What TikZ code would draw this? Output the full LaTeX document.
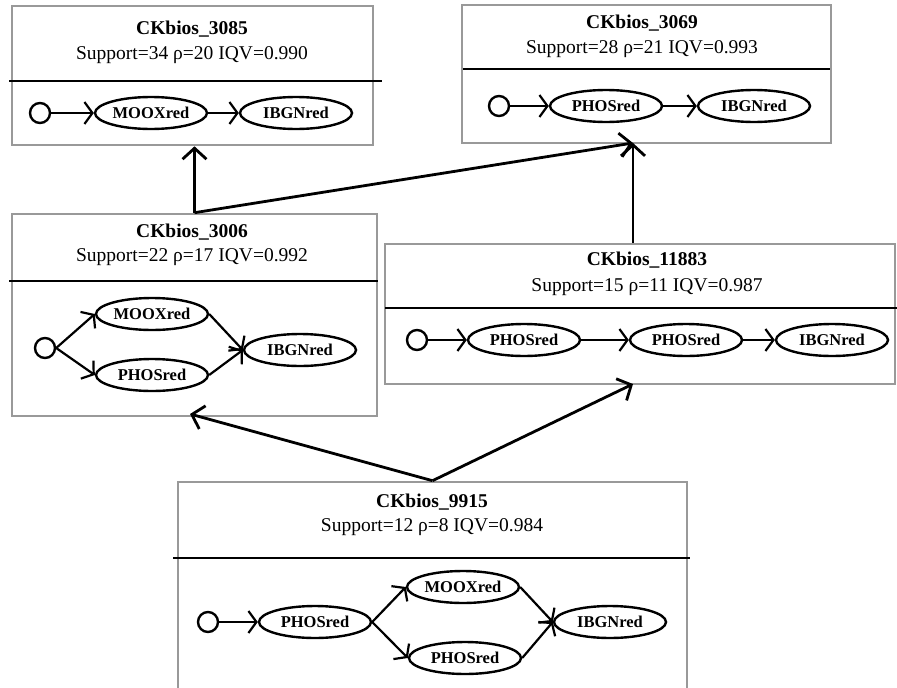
\documentclass[tikz,border=0pt]{standalone}
\usepackage{fontspec}
\setmainfont{Liberation Serif}
\usetikzlibrary{arrows.meta,positioning,shapes.geometric}

\begin{document}
\begin{tikzpicture}[x=1pt,y=-1pt,
  box/.style={draw=gray!80,line width=2.6pt,inner sep=0pt},
  divider/.style={line width=2.4pt},
  title/.style={inner sep=0pt,font=\bfseries\fontsize{19.5}{22}\selectfont},
  stats/.style={inner sep=0pt,font=\fontsize{19.5}{22}\selectfont},
  start/.style={circle,draw,line width=2.4pt,minimum size=20pt,inner sep=0pt},
  state/.style={ellipse,draw,line width=2.4pt,minimum width=112pt,minimum height=32pt,
    inner sep=0pt,font=\bfseries\fontsize{16.5}{18}\selectfont},
  trans/.style={line width=2.2pt,-{Straight Barb[length=8pt,width=22pt]}},
  link/.style={line width=2.8pt,-{Straight Barb[length=11pt,width=24pt]}}]

  \clip (0,0) rectangle (897,688);

  % Boxes
  \node[box,minimum width=361pt,minimum height=139pt] (b3085) at (192.5,75.5) {};
  \node[box,minimum width=369pt,minimum height=138pt] (b3069) at (646.5,74) {};
  \node[box,minimum width=365pt,minimum height=202pt] (b3006) at (194.5,315) {};
  \node[box,minimum width=510pt,minimum height=140pt] (b11883) at (640,314) {};
  \node[box,minimum width=509pt,minimum height=218pt] (b9915) at (432.5,591) {};

  % Dividers
  \draw[divider] (9,81) -- (382,81);
  \draw[divider] (463,69) -- (830,69);
  \draw[divider] (9,281) -- (378,281);
  \draw[divider] (385,308) -- (897,308);
  \draw[divider] (173,558) -- (690,558);

  % Headers
  \node[title] (h3085) at (192,29) {CKbios\_3085};
  \node[stats] (s3085) at (192,55) {Support=34 ρ=20 IQV=0.990};
  \node[title] (h3069) at (642,23) {CKbios\_3069};
  \node[stats] (s3069) at (642,49) {Support=28 ρ=21 IQV=0.993};
  \node[title] (h3006) at (192,232) {CKbios\_3006};
  \node[stats] (s3006) at (192,257) {Support=22 ρ=17 IQV=0.992};
  \node[title] (h11883) at (647,260) {CKbios\_11883};
  \node[stats] (s11883) at (647,287) {Support=15 ρ=11 IQV=0.987};
  \node[title] (h9915) at (432,502) {CKbios\_9915};
  \node[stats] (s9915) at (432,527) {Support=12 ρ=8 IQV=0.984};

  % CKbios_3085
  \node[start] (a0) at (40,113) {};
  \node[state] (a1) at (151,113) {MOOXred};
  \node[state] (a2) at (296,113) {IBGNred};
  \draw[trans] (a0.east) -- (a1.west);
  \draw[trans] (a1.east) -- (a2.west);

  % CKbios_3069
  \node[start] (b0) at (499,106) {};
  \node[state] (b1) at (606,106) {PHOSred};
  \node[state] (b2) at (754,106) {IBGNred};
  \draw[trans] (b0.east) -- (b1.west);
  \draw[trans] (b1.east) -- (b2.west);

  % CKbios_3006
  \node[start] (c0) at (45,348) {};
  \node[state] (c1) at (152,314) {MOOXred};
  \node[state] (c2) at (152,375) {PHOSred};
  \node[state] (c3) at (300,350) {IBGNred};
  \draw[trans] (c0.east) -- (c1.west);
  \draw[trans] (c0.east) -- (c2.west);
  \draw[trans] (c1.east) -- (c3.west);
  \draw[trans] (c2.east) -- (c3.west);

  % CKbios_11883
  \node[start] (d0) at (417,340) {};
  \node[state] (d1) at (524,340) {PHOSred};
  \node[state] (d2) at (686,340) {PHOSred};
  \node[state] (d3) at (832,340) {IBGNred};
  \draw[trans] (d0.east) -- (d1.west);
  \draw[trans] (d1.east) -- (d2.west);
  \draw[trans] (d2.east) -- (d3.west);

  % CKbios_9915
  \node[start] (e0) at (208,622) {};
  \node[state] (e1) at (315,622) {PHOSred};
  \node[state] (e2) at (463,587) {MOOXred};
  \node[state] (e3) at (465,658) {PHOSred};
  \node[state] (e4) at (610,622) {IBGNred};
  \draw[trans] (e0.east) -- (e1.west);
  \draw[trans] (e1.east) -- (e2.west);
  \draw[trans] (e1.east) -- (e3.west);
  \draw[trans] (e2.east) -- (e4.west);
  \draw[trans] (e3.east) -- (e4.west);

  % Links between patterns
  \coordinate (t3069) at (633,143);
  \coordinate (t3006) at (190,414);
  \coordinate (t11883) at (633,384);
  \draw[link] (b3006.north) -- (b3006.north |- b3085.south);
  \draw[link] (b3006.north) -- (t3069);
  \draw[link] (b11883.north -| t3069) -- (t3069);
  \draw[link] (b9915.north) -- (t3006);
  \draw[link] (b9915.north) -- (t11883);
\end{tikzpicture}
\end{document}
